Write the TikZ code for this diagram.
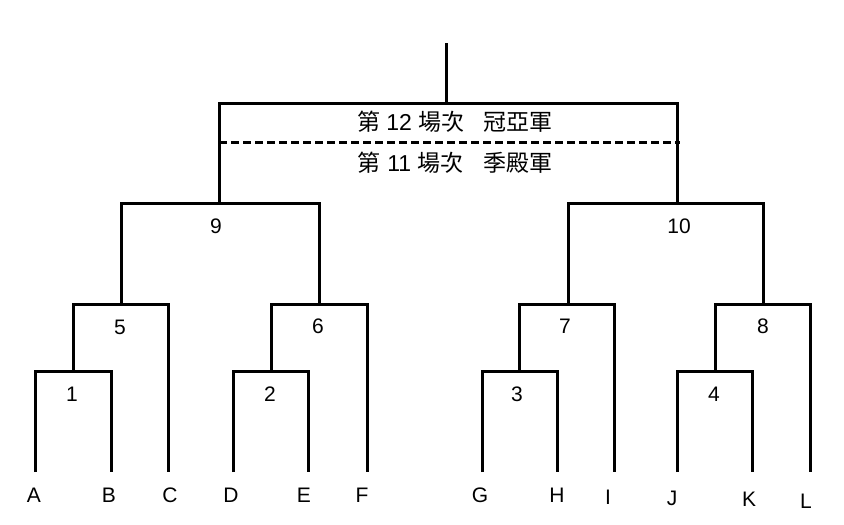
\documentclass[tikz,border=0pt]{standalone}
\usepackage{fontspec}
\setmainfont{Liberation Sans}
\newfontfamily\cjk{Noto Sans CJK TC}
\begin{document}
\begin{tikzpicture}[x=1pt,y=-1pt,
  br/.style={line width=3pt,line cap=butt,line join=miter},
  lbl/.style={inner sep=0pt,font=\fontsize{21}{25}\selectfont},
  ttl/.style={inner sep=0pt,font=\fontsize{23}{27}\selectfont}]
\useasboundingbox (0,0) rectangle (844,525);
% leaf tops
\coordinate (a) at (35,472);
\coordinate (b) at (111,472);
\coordinate (c) at (168,472);
\coordinate (d) at (233,472);
\coordinate (e) at (308,472);
\coordinate (f) at (367,472);
\coordinate (g) at (482,472);
\coordinate (h) at (557,472);
\coordinate (i) at (614,472);
\coordinate (j) at (677,472);
\coordinate (k) at (752,472);
\coordinate (l) at (810,472);
% match points
\coordinate (m1) at (73,371);
\coordinate (m2) at (271,371);
\coordinate (m3) at (519,371);
\coordinate (m4) at (715,371);
\coordinate (m5) at (121,304);
\coordinate (m6) at (319,304);
\coordinate (m7) at (568,304);
\coordinate (m8) at (763,304);
\coordinate (m9) at (219,203);
\coordinate (m10) at (677,203);
\coordinate (m12) at (446,103);
\coordinate (top) at (446,43);
\coordinate (dl) at (219,142);
\coordinate (dr) at (680,142);
% brackets
\draw[br] (a) |- (m1) -| (b);
\draw[br] (d) |- (m2) -| (e);
\draw[br] (g) |- (m3) -| (h);
\draw[br] (j) |- (m4) -| (k);
\draw[br] (m1) |- (m5) -| (c);
\draw[br] (m2) |- (m6) -| (f);
\draw[br] (m3) |- (m7) -| (i);
\draw[br] (m4) |- (m8) -| (l);
\draw[br] (m5) |- (m9) -| (m6);
\draw[br] (m7) |- (m10) -| (m8);
\draw[br] (m9) |- (m12) -| (m10);
\draw[br] (m12) -- (top);
\draw[br,dash pattern=on 8pt off 4pt] (dl) -- (dr);
% leaf labels
\node[lbl] (tA) at (34,495) {A};
\node[lbl] (tB) at (109,495) {B};
\node[lbl] (tC) at (170,495) {C};
\node[lbl] (tD) at (231,495) {D};
\node[lbl] (tE) at (304,495) {E};
\node[lbl] (tF) at (362,495) {F};
\node[lbl] (tG) at (480,495) {G};
\node[lbl] (tH) at (557,495) {H};
\node[lbl] (tI) at (608,497) {I};
\node[lbl] (tJ) at (672,498) {J};
\node[lbl] (tK) at (749,499) {K};
\node[lbl] (tL) at (806,501) {L};
% match labels
\node[lbl] (n1) at (72,394) {1};
\node[lbl] (n2) at (270,394) {2};
\node[lbl] (n3) at (517,394) {3};
\node[lbl] (n4) at (714,394) {4};
\node[lbl] (n5) at (120,327) {5};
\node[lbl] (n6) at (318,326) {6};
\node[lbl] (n7) at (565,326) {7};
\node[lbl] (n8) at (763,326) {8};
\node[lbl] (n9) at (216,226) {9};
\node[lbl] (n10) at (679,226) {10};
\node[ttl] (t12) at (455,122) {{\cjk 第} 12 {\cjk 場次}\hspace{0.85em}{\cjk 冠亞軍}};
\node[ttl] (t11) at (455,163) {{\cjk 第} 11 {\cjk 場次}\hspace{0.85em}{\cjk 季殿軍}};
\end{tikzpicture}
\end{document}
